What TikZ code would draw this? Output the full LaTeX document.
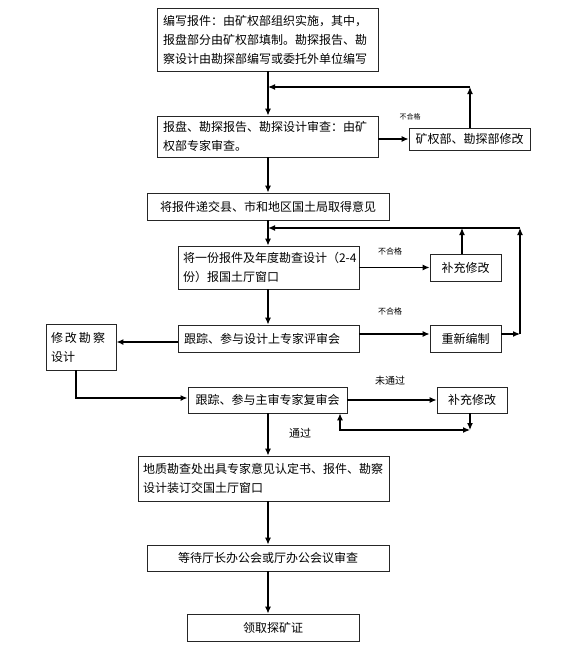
\documentclass[tikz,border=0pt]{standalone}
\usepackage{fontspec}
\setmainfont{Noto Sans CJK SC}
\usetikzlibrary{arrows.meta}
\begin{document}
\begin{tikzpicture}[x=1pt,y=-1pt,
  box/.style={draw=black!85,line width=0.8pt,inner xsep=6pt,inner ysep=2pt,
    font=\fontsize{12}{19}\selectfont},
  lbox/.style={box,align=left},
  cbox/.style={box,align=center},
  arr/.style={line width=1.2pt,-{Latex[length=7pt,width=6pt]}},
  ln/.style={line width=1.2pt},
  tiny/.style={font=\fontsize{7}{8}\selectfont},
  small/.style={font=\fontsize{10}{12}\selectfont}]
\useasboundingbox (0,0) rectangle (562,659);
\fill[white] (0,0) rectangle (562,659);

\node[lbox,minimum width=221pt,minimum height=63pt,text width=209pt] (b1) at (267.5,39.5)
  {\mbox{编写报件：由矿权部组织实施，其中，}\\\mbox{报盘部分由矿权部填制。勘探报告、勘}\\\mbox{察设计由勘探部编写或委托外单位编写}};
\node[lbox,minimum width=221pt,minimum height=41pt,text width=209pt] (b2) at (267.5,136.5)
  {\mbox{报盘、勘探报告、勘探设计审查：由矿}\\\mbox{权部专家审查。}};
\node[cbox,minimum width=121pt,minimum height=22pt] (b3) at (469.5,139) {矿权部、勘探部修改};
\node[cbox,minimum width=242pt,minimum height=27pt] (b4) at (268,206.5) {将报件递交县、市和地区国土局取得意见};
\node[lbox,minimum width=181pt,minimum height=43pt,text width=171pt,inner xsep=5pt] (b5) at (268.5,267.5)
  {\mbox{将一份报件及年度勘查设计（2-4}\\\mbox{份）报国土厅窗口}};
\node[cbox,minimum width=71pt,minimum height=27pt] (b6) at (465.5,267.5) {补充修改};
\node[lbox,minimum width=181pt,minimum height=27pt,text width=169pt] (b7) at (268.5,338.5) {\mbox{跟踪、参与设计上专家评审会}};
\node[cbox,minimum width=71pt,minimum height=27pt] (b8) at (465.5,338.5) {重新编制};
\node[lbox,minimum width=70pt,minimum height=46pt,text width=60pt,inner xsep=5pt] (b9) at (81,347)
  {\mbox{修\,改\,勘\,察}\\\mbox{设计}};
\node[cbox,minimum width=159pt,minimum height=26pt] (b10) at (267.5,400) {跟踪、参与主审专家复审会};
\node[cbox,minimum width=70pt,minimum height=26pt] (b11) at (472,400) {补充修改};
\node[lbox,minimum width=251pt,minimum height=45pt,text width=241pt,inner xsep=5pt] (b12) at (263.5,478.5)
  {\mbox{地质勘查处出具专家意见认定书、报件、勘察}\\\mbox{设计装订交国土厅窗口}};
\node[cbox,minimum width=242pt,minimum height=26pt] (b13) at (268,558) {等待厅长办公会或厅办公会议审查};
\node[cbox,minimum width=172pt,minimum height=27pt] (b14) at (273,627.5) {领取探矿证};

\coordinate (ax) at (268,0);
% labels
\node[tiny] (l1) at (410,117) {不合格};
\node[font=\fontsize{8}{9}\selectfont] (l2) at (390,251) {不合格};
\node[font=\fontsize{8}{9}\selectfont] (l3) at (390,311) {不合格};
\node[small] (l4) at (390,381) {未通过};
\node[font=\fontsize{11}{12}\selectfont] (l5) at (300,433) {通过};

% main flow
\draw[arr] (b1.south -| ax) -- (b2.north -| ax);
\draw[arr] (b2.east |- b3.west) -- (b3.west);
\coordinate (c1) at (470,87);
\coordinate (c2) at (268,87);
\draw[arr] (b3.north -| c1) -- (c1);
\draw[arr] (c1) -- (c2);
\draw[arr] (b2.south -| ax) -- (b4.north -| ax);
\draw[arr] (b4.south -| ax) -- (b5.north -| ax);
\draw[arr] (b5.east) -- (b6.west);
\coordinate (d1) at (462,228);
\coordinate (d2) at (520,228);
\coordinate (d3) at (520,334);
\coordinate (d4) at (268,228);
\draw[arr] (b6.north -| d1) -- (d1);
\draw[arr] (b8.east |- d3) -- (d3);
\draw[arr] (d3) -- (d2);
\draw[ln] (d2) -- (d1);
\draw[arr,line width=1.8pt] (d1) -- (d4);
\draw[arr] (b5.south -| ax) -- (b7.north -| ax);
\draw[arr] (b7.east |- d3) -- (b8.west |- d3);
\coordinate (e1) at (0,342);
\draw[arr,line width=1.8pt] (b7.west |- e1) -- (b9.east |- e1);
\coordinate (e2) at (76,398);
\draw[arr,line width=1.8pt] (b9.south -| e2) -- (e2) -- (b10.west |- e2);
\draw[arr] (b10.east) -- (b11.west);
\coordinate (f1) at (470,430);
\coordinate (f2) at (340,430);
\draw[arr] (b11.south -| f1) -- (f1);
\draw[line width=1.2pt,{Latex[length=7pt,width=6pt]}-{Latex[length=7pt,width=6pt]}] (b10.south -| f2) -- (f2) -- (f1);
\draw[arr] (b10.south -| ax) -- (b12.north -| ax);
\draw[arr] (b12.south -| ax) -- (b13.north -| ax);
\draw[arr] (b13.south -| ax) -- (b14.north -| ax);
\end{tikzpicture}
\end{document}
